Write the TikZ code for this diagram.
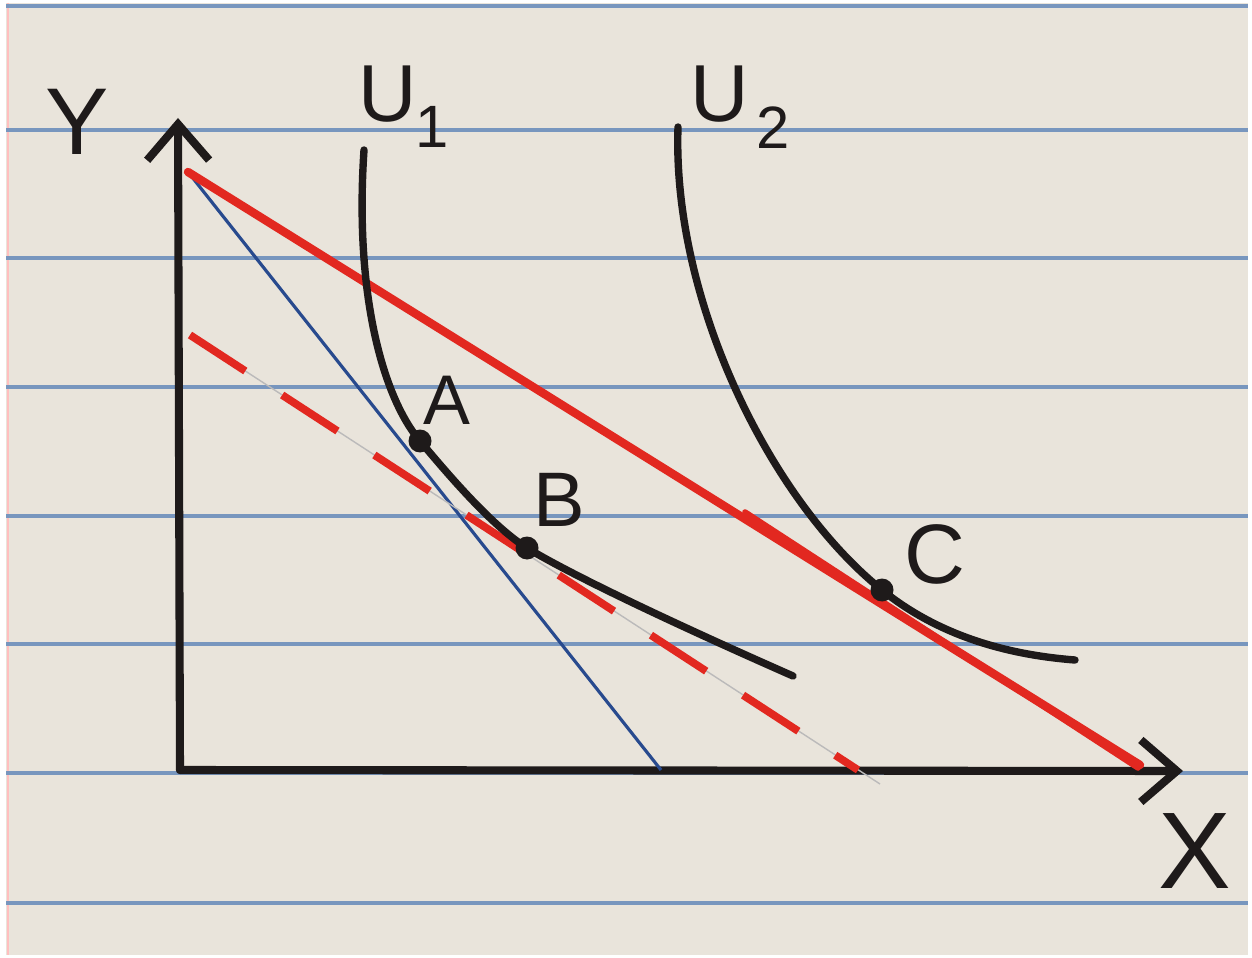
\documentclass[tikz,border=0pt]{standalone}
\usepackage{fontspec}
\setmainfont{Liberation Sans}
\usetikzlibrary{arrows.meta, positioning}

\definecolor{paper}{RGB}{233,228,219}
\definecolor{ruling}{RGB}{120,150,190}
\definecolor{ink}{RGB}{30,26,26}
\definecolor{redink}{RGB}{226,40,32}
\definecolor{blueink}{RGB}{40,74,142}

\begin{document}
\begin{tikzpicture}[
  x=0.1mm, y=-0.1mm,
  rulingline/.style={ruling, line width=1.1pt},
  axis/.style={ink, line width=2.3pt, line cap=round, line join=round,
    -{Straight Barb[length=3.6mm, width=6.2mm]}},
  budget/.style={redink, line width=2.4pt, line cap=round},
  steep/.style={blueink, line width=0.9pt},
  shifted/.style={redink, line width=2.2pt, dash pattern=on 6.6mm off 4.4mm},
  icurve/.style={ink, line width=2.1pt, line cap=round},
  pt/.style={circle, fill=ink, inner sep=0pt, minimum size=2.3mm},
  lbl/.style={text=ink, inner sep=0pt, font=\fontsize{24}{24}\selectfont},
  sublbl/.style={text=ink, inner sep=0pt, font=\fontsize{17}{17}\selectfont}
]
\useasboundingbox (0,0) rectangle (1252,958);
\fill[white] (0,0) rectangle (1252,958);
\fill[paper] (6,3) rectangle (1248,955);
\draw[red!25, line width=0.8pt] (8,3) -- (8,955);
\foreach \y in {6,130,258,387,516,644,773,903}{\draw[rulingline] (6,\y) -- (1248,\y);}

% axes
\coordinate (O) at (180,770);
\coordinate (Ytip) at (178,118);
\coordinate (Xtip) at (1183,771);
\draw[axis] (O) -- (Ytip);
\draw[axis] (O) -- (Xtip);
\node[lbl, font=\fontsize{27}{27}\selectfont] (ylab) at (77,122) {Y};
\node[lbl, font=\fontsize{31}{31}\selectfont] (xlab) at (1195,851) {X};

% budget lines
\coordinate (Rtop) at (188,172);
\coordinate (Rend) at (1140,765);
\coordinate (Bend) at (661,770);
\coordinate (Dtop) at (190,335);
\coordinate (Dend) at (858,770);
\draw[steep] (Rtop) -- (Bend);
\draw[ink!30, line width=0.4pt] (Dtop) -- (880,784);
\draw[shifted] (Dtop) -- (Dend);
\draw[budget] (Rtop) -- (Rend);
\draw[budget, line width=1.6pt] (745,512) -- (1138,768);

% bundles
\node[pt] (A) at (420,441) {};
\node[pt] (B) at (527,548) {};
\node[pt] (C) at (882,590) {};

% indifference curves
\coordinate (U1top) at (364,150);
\coordinate (U1end) at (793,676);
\coordinate (U2top) at (678,127);
\coordinate (U2end) at (1075,660);
\draw[icurve] (U1top) .. controls (354,300) and (385,400) .. (A.center)
  .. controls (442,467) and (490,525) .. (B.center)
  .. controls (580,580) and (700,635) .. (U1end);
\draw[icurve] (U2top) .. controls (672,300) and (770,500) .. (C.center)
  .. controls (940,637) and (1010,655) .. (U2end);
\node[lbl, font=\fontsize{23}{23}\selectfont] (u1) at (388,94) {U};
\node[sublbl] (u1sub) at (432,127) {1};
\node[lbl, font=\fontsize{23}{23}\selectfont] (u2) at (720,94) {U};
\node[sublbl] (u2sub) at (773,128) {2};

\node[lbl, font=\fontsize{20}{20}\selectfont] (alab) at (447,400) {A};
\node[lbl, font=\fontsize{22}{22}\selectfont] (blab) at (559,500) {B};
\node[lbl, font=\fontsize{24}{24}\selectfont] (clab) at (935,554) {C};
\end{tikzpicture}
\end{document}
